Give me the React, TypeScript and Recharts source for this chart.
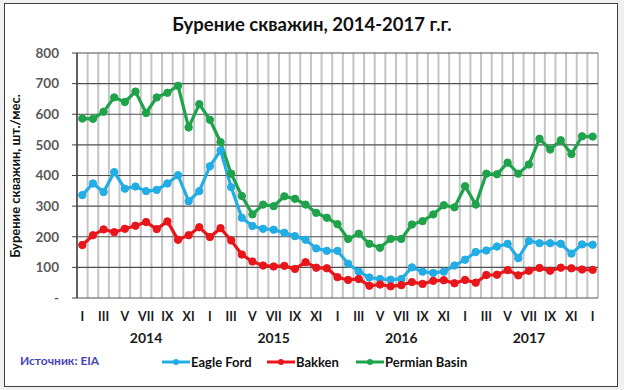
import React from "react";
import { LineChart, Line, XAxis, YAxis, CartesianGrid } from "recharts";

const months = ["I", "II", "III", "IV", "V", "VI", "VII", "VIII", "IX", "X", "XI", "XII"];
const years = ["2014", "2015", "2016", "2017", "2018"];

const eagleFord = [
  336, 374, 346, 411, 357, 364, 349, 353, 374, 401, 316, 349,
  430, 482, 362, 262, 235, 226, 223, 213, 202, 190, 162, 154,
  154, 112, 86, 67, 62, 60, 62, 100, 86, 82, 86, 106,
  125, 150, 155, 168, 177, 130, 186, 179, 179, 177, 145, 175,
  174,
];

const bakken = [
  173, 205, 224, 215, 226, 236, 248, 225, 250, 190, 205, 231,
  199, 228, 188, 142, 119, 106, 103, 105, 95, 117, 99, 97,
  68, 59, 62, 40, 44, 38, 42, 52, 46, 56, 58, 48,
  59, 50, 75, 76, 91, 74, 89, 98, 89, 99, 97, 93,
  92,
];

const permian = [
  586, 585, 608, 655, 640, 674, 604, 655, 670, 693, 557, 633,
  582, 509, 406, 333, 273, 305, 300, 332, 324, 305, 278, 262,
  241, 193, 210, 177, 164, 193, 193, 240, 251, 273, 303, 296,
  365, 305, 406, 404, 442, 406, 436, 520, 485, 515, 470, 528,
  527,
];

const yTicks = [0, 100, 200, 300, 400, 500, 600, 700, 800];

const data = eagleFord.map((v, i) => ({
  key: `${years[Math.floor(i / 12)]}-${i % 12}`,
  month: months[i % 12],
  year: years[Math.floor(i / 12)],
  idx: i,
  ef: v,
  bk: bakken[i],
  pb: permian[i],
}));

const gridTicks = Array.from({ length: data.length + 1 }, (_, i) => i);

const COLORS = { ef: "#22ade4", bk: "#e8161b", pb: "#1ea34a" };
const FONT = "Lato, 'Noto Sans', sans-serif";

const MonthTick = (props: any) => {
  const { x, y, index } = props;
  const d = data[index];
  if (!d) return <g />;
  return (
    <g>
      {index % 2 === 0 && (
        <text x={x} y={y + 23} textAnchor="middle" fontSize={12.5} fontWeight={700} fill="#1a1a1a" fontFamily={FONT}>
          {d.month}
        </text>
      )}
      {index % 12 === 6 && (
        <text x={x} y={y + 45} textAnchor="middle" fontSize={14} fontWeight={700} fill="#1a1a1a" fontFamily={FONT}>
          {d.year}
        </text>
      )}
    </g>
  );
};

const legendItems = [
  { label: "Eagle Ford", color: COLORS.ef, left: 162 },
  { label: "Bakken", color: COLORS.bk, left: 267 },
  { label: "Permian Basin", color: COLORS.pb, left: 356 },
];

const App: React.FC = () => {
  const dotStyle = (c: string) => ({ r: 3.7, fill: c, stroke: c, strokeWidth: 1 });
  return (
    <div style={{ position: "absolute", left: 0, top: 0, width: 624, height: 390, background: "#f0f0f0", fontFamily: FONT }}>
      <div style={{ position: "absolute", left: 4, top: 3, width: 612, height: 382, background: "#fff", border: "1.5px solid #404040" }} />
      <div style={{ position: "absolute", left: 0, top: 13, width: 624, textAlign: "center", fontSize: 18.5, fontWeight: 700, color: "#111" }}>
        Бурение скважин, 2014-2017 г.г.
      </div>
      <div
        style={{
          position: "absolute", left: 15, top: 176, transform: "translate(-50%, -50%) rotate(-90deg)",
          whiteSpace: "nowrap", fontSize: 13, fontWeight: 700, color: "#111",
        }}
      >
        Бурение скважин, шт./мес.
      </div>
      <div style={{ position: "absolute", left: 20, top: 353, fontSize: 12, fontWeight: 700, color: "#4646b4" }}>
        Источник: EIA
      </div>
      {legendItems.map((it) => (
        <div key={it.label} style={{ position: "absolute", left: it.left, top: 353, height: 18, display: "flex", alignItems: "center" }}>
          <svg width={28} height={10}>
            <line x1={0} y1={5} x2={28} y2={5} stroke={it.color} strokeWidth={3} />
            <circle cx={14} cy={5} r={3} fill={it.color} />
          </svg>
          <span style={{ fontSize: 13, fontWeight: 700, color: "#111", marginLeft: 1 }}>{it.label}</span>
        </div>
      ))}
      <div style={{ position: "absolute", left: 0, top: 0 }}>
        <LineChart width={624} height={390} data={data} margin={{ top: 53, right: 26, bottom: 42, left: 0 }}>
          <CartesianGrid xAxisId="g" horizontal={false} vertical stroke="#c4c4c4" strokeWidth={2} />
          <CartesianGrid xAxisId="g" horizontal vertical={false} stroke="#505050" strokeWidth={1.2} />
          <XAxis
            xAxisId="g"
            type="number"
            dataKey="idx"
            domain={[0, data.length]}
            ticks={gridTicks}
            interval={0}
            tick={() => <g />}
            tickSize={5}
            tickLine={{ stroke: "#404040" }}
            axisLine={{ stroke: "#404040", strokeWidth: 1.5 }}
            height={0}
          />
          <XAxis
            xAxisId="m"
            dataKey="key"
            type="category"
            interval={0}
            padding={{ left: 5.32, right: 5.32 }}
            tick={<MonthTick />}
            tickLine={false}
            axisLine={false}
            tickSize={0}
            tickMargin={0}
            height={50}
          />
          <YAxis
            domain={[0, 800]}
            ticks={yTicks}
            width={77}
            tickSize={5}
            tickMargin={13}
            tickFormatter={(v: number) => (v === 0 ? "-" : String(v))}
            tick={{ fill: "#595959", fontSize: 13.5, fontWeight: 700, fontFamily: FONT }}
            tickLine={{ stroke: "#404040" }}
            axisLine={{ stroke: "#404040", strokeWidth: 1.5 }}
          />
          <Line xAxisId="m" dataKey="pb" stroke={COLORS.pb} strokeWidth={3.2} dot={dotStyle(COLORS.pb)} isAnimationActive={false} />
          <Line xAxisId="m" dataKey="ef" stroke={COLORS.ef} strokeWidth={3.2} dot={dotStyle(COLORS.ef)} isAnimationActive={false} />
          <Line xAxisId="m" dataKey="bk" stroke={COLORS.bk} strokeWidth={3.2} dot={dotStyle(COLORS.bk)} isAnimationActive={false} />
        </LineChart>
      </div>
    </div>
  );
};

export default App;
